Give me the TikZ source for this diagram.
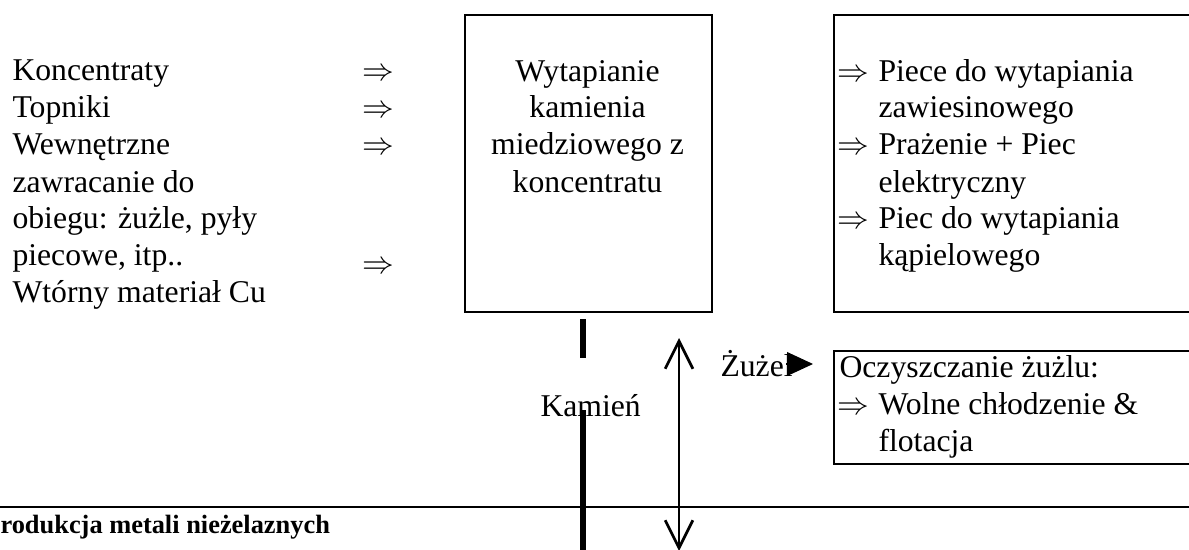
\documentclass[tikz,border=0pt]{standalone}
\usepackage{fontspec}
\setmainfont{Liberation Serif}
\usetikzlibrary{arrows.meta}
\begin{document}
\begin{tikzpicture}[x=0.3788pt,y=-0.3788pt,
  txt/.style={anchor=base west,inner sep=0pt,font=\fontsize{12pt}{14pt}\selectfont},
  ctxt/.style={txt,anchor=base},
  frame/.style={draw,line width=0.76pt,inner sep=0pt,anchor=north west},
  thickbar/.style={line width=2.3pt},
  flow/.style={line width=1.05pt,{Straight Barb[length=10.5pt,width=10.5pt]}-{Straight Barb[length=10.5pt,width=10.5pt]}},
  slagarrow/.style={line width=0.4pt,-{Triangle[length=9.8pt,width=9pt]}}]
\useasboundingbox (0,0) rectangle (1189,550);

% input materials
\node[txt] (in1) at (12,81)  {Koncentraty};
\node[txt] (in2) at (12,118) {Topniki};
\node[txt] (in3) at (12,155) {Wewnętrzne};
\node[txt] (in4) at (12,192) {zawracanie do};
\node[txt] (in5) at (12,229) {obiegu: żużle, pyły};
\node[txt] (in6) at (12,266) {piecowe, itp..};
\node[txt] (in7) at (12,302) {Wtórny materiał Cu};
\node[txt] (ia1) at (362,81)  {$\Rightarrow$};
\node[txt] (ia2) at (362,118) {$\Rightarrow$};
\node[txt] (ia3) at (362,155) {$\Rightarrow$};
\node[txt] (ia4) at (362,273) {$\Rightarrow$};

% smelting box
\node[frame,minimum width=93.6pt,minimum height=112.5pt] (smelt) at (464,14) {};
\node[ctxt] (s1) at (587.5,82)  {Wytapianie};
\node[ctxt] (s2) at (587.5,118) {kamienia};
\node[ctxt] (s3) at (587.5,155) {miedziowego z};
\node[ctxt] (s4) at (587.5,192) {koncentratu};

% furnace types
\node[frame,minimum width=139pt,minimum height=112.5pt] (furn) at (833,14) {};
\node[txt] (fa1) at (837,82)  {$\Rightarrow$};
\node[txt] (f1)  at (878,82)  {Piece do wytapiania};
\node[txt] (f2)  at (878,118) {zawiesinowego};
\node[txt] (fa2) at (837,155) {$\Rightarrow$};
\node[txt] (f3)  at (878,155) {Prażenie + Piec};
\node[txt] (f4)  at (878,192) {elektryczny};
\node[txt] (fa3) at (837,229) {$\Rightarrow$};
\node[txt] (f5)  at (878,229) {Piec do wytapiania};
\node[txt] (f6)  at (878,266) {kąpielowego};

% slag cleaning
\node[frame,minimum width=139pt,minimum height=42.8pt] (slag) at (833,350) {};
\node[txt] (c1)  at (839,377) {Oczyszczanie żużlu:};
\node[txt] (ca1) at (837,414) {$\Rightarrow$};
\node[txt] (c2)  at (878,414) {Wolne chłodzenie \&};
\node[txt] (c3)  at (878,451) {flotacja};

% matte and slag streams
\coordinate (m1) at (583,319);
\coordinate (m2) at (583,358);
\coordinate (m3) at (583,410);
\coordinate (m4) at (583,552);
\draw[thickbar] (m1) -- (m2);
\draw[thickbar] (m3) -- (m4);
\node[txt] (matte) at (540,416) {Kamień};

\coordinate (r1) at (679,338);
\coordinate (r2) at (679,551);
\draw[flow] (r1) -- (r2);

\node[txt] (zuz) at (720,376) {Żużel};
\coordinate (z1) at (786,364);
\coordinate (z2) at (813,364);
\draw[slagarrow] (z1) -- (z2);

% section rule and caption
\coordinate (h1) at (0,507);
\coordinate (h2) at (1189,507);
\draw[line width=0.76pt] (h1) -- (h2);
\node[anchor=base west,inner sep=0pt,font=\fontsize{10pt}{12pt}\selectfont\bfseries] (cap) at (0,533) {rodukcja metali nieżelaznych};
\end{tikzpicture}
\end{document}
